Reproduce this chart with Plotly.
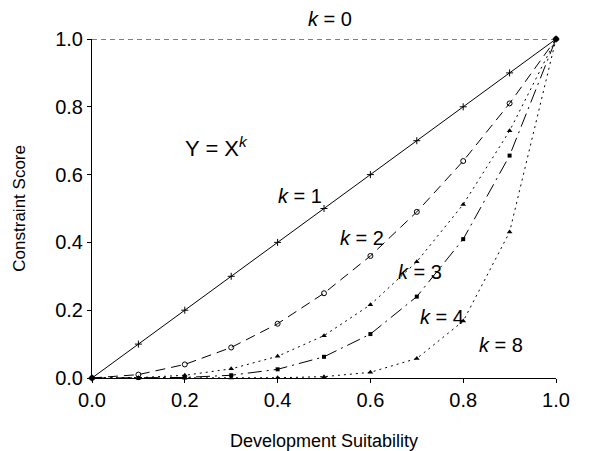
import plotly.graph_objects as go

x_vals = [0.0, 0.1, 0.2, 0.3, 0.4, 0.5, 0.6, 0.7, 0.8, 0.9, 1.0]
y_k0 = [1.0, 1.0, 1.0, 1.0, 1.0, 1.0, 1.0, 1.0, 1.0, 1.0, 1.0]
y_k1 = [0.0, 0.1, 0.2, 0.3, 0.4, 0.5, 0.6, 0.7, 0.8, 0.9, 1.0]
y_k2 = [0.0, 0.01, 0.04, 0.09, 0.16, 0.25, 0.36, 0.49, 0.64, 0.81, 1.0]
y_k3 = [0.0, 0.001, 0.008, 0.027, 0.064, 0.125, 0.216, 0.343, 0.512, 0.729, 1.0]
y_k4 = [0.0, 0.0001, 0.0016, 0.0081, 0.0256, 0.0625, 0.1296, 0.2401, 0.4096, 0.6561, 1.0]
y_k8 = [0.0, 0.0, 0.0, 0.0001, 0.0007, 0.0039, 0.0168, 0.0576, 0.1678, 0.4305, 1.0]

tick_vals = [0.0, 0.2, 0.4, 0.6, 0.8, 1.0]
tick_text = ["0.0", "0.2", "0.4", "0.6", "0.8", "1.0"]

curve_labels = ["k = 0", "k = 1", "k = 2", "k = 3", "k = 4", "k = 8"]

FONT = "Liberation Sans, Arial, sans-serif"

fig = go.Figure()
fig.add_trace(go.Scatter(x=x_vals, y=y_k0, mode="lines",
                         line=dict(color="black", width=1, dash="5px,4px")))
fig.add_trace(go.Scatter(x=x_vals, y=y_k1, mode="lines+markers",
                         line=dict(color="black", width=1),
                         marker=dict(symbol="cross-thin", size=5, color="black",
                                     line=dict(color="black", width=1))))
fig.add_trace(go.Scatter(x=x_vals, y=y_k2, mode="lines+markers",
                         line=dict(color="black", width=1, dash="10px,6px"),
                         marker=dict(symbol="circle-open", size=5, color="black",
                                     line=dict(color="black", width=1))))
fig.add_trace(go.Scatter(x=x_vals, y=y_k3, mode="lines+markers",
                         line=dict(color="black", width=1, dash="2px,4px"),
                         marker=dict(symbol="triangle-up", size=5, color="black")))
fig.add_trace(go.Scatter(x=x_vals, y=y_k4, mode="lines+markers",
                         line=dict(color="black", width=1, dash="14px,5px,2px,5px"),
                         marker=dict(symbol="square", size=4, color="black")))
fig.add_trace(go.Scatter(x=x_vals, y=y_k8, mode="lines+markers",
                         line=dict(color="black", width=1, dash="2px,4px"),
                         marker=dict(symbol="triangle-up", size=5, color="black")))

lab_font = dict(family=FONT, size=20, color="black")

def klab(t):
    k, rest = t.split(" ", 1)
    return "<i>" + k + "</i> " + rest

# k = 0 label sits above the plot area (paper coordinates for y)
fig.add_annotation(x=0.513, y=1.059, xref="x", yref="paper", text=klab(curve_labels[0]),
                   showarrow=False, font=lab_font, xanchor="center", yanchor="middle")

label_pos = [(0.448, 0.538), (0.582, 0.414), (0.707, 0.314), (0.754, 0.181), (0.881, 0.098)]
for t, (lx, ly) in zip(curve_labels[1:], label_pos):
    fig.add_annotation(x=lx, y=ly, text=klab(t), showarrow=False, font=lab_font,
                       xanchor="center", yanchor="middle")

fig.add_annotation(x=0.268, y=0.68, text="Y = X<sup><i>k</i></sup>", showarrow=False,
                   font=dict(family=FONT, size=22, color="black"),
                   xanchor="center", yanchor="middle")

# axis titles
fig.add_annotation(x=0.5, y=-0.186, xref="paper", yref="paper", text="Development Suitability",
                   showarrow=False, font=dict(family=FONT, size=18, color="black"),
                   xanchor="center", yanchor="middle")
fig.add_annotation(x=-0.157, y=0.5, xref="paper", yref="paper", text="Constraint Score",
                   textangle=-90, showarrow=False, font=dict(family=FONT, size=17, color="black"),
                   xanchor="center", yanchor="middle")

axis_common = dict(range=[0, 1], tickvals=tick_vals, ticktext=tick_text,
                   showgrid=False, zeroline=False, showline=True, linecolor="black",
                   linewidth=1, ticks="outside", ticklen=4, tickcolor="black",
                   automargin=False,
                   tickfont=dict(family=FONT, size=20, color="black"))

# page body has an 8px default margin, so the figure is offset by it
fig.update_layout(
    width=593, height=443,
    margin=dict(l=84, r=45, t=31, b=73),
    paper_bgcolor="white", plot_bgcolor="white",
    showlegend=False,
    xaxis=dict(**axis_common),
    yaxis=dict(**axis_common),
)
fig.update_traces(cliponaxis=False)

fig.write_html("out.html")
